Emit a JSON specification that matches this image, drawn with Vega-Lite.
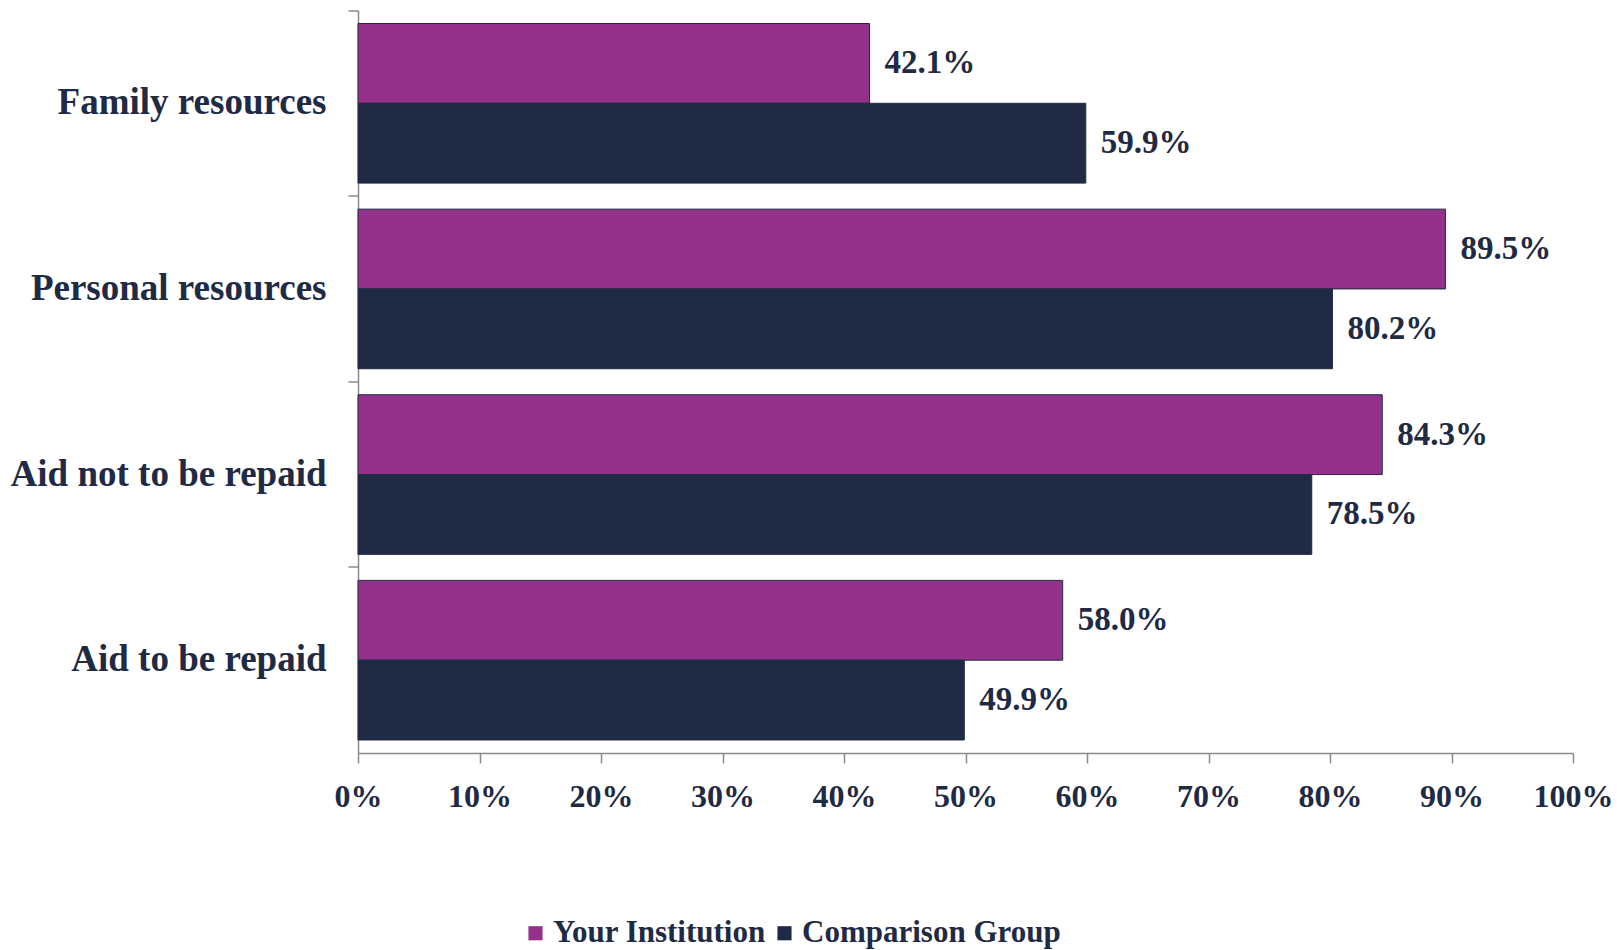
{
  "$schema": "https://vega.github.io/schema/vega-lite/v6.json",
  "width": 1215,
  "height": 742.5,
  "autosize": {"type": "none"},
  "padding": {"left": 358, "top": 10.5, "right": 44, "bottom": 197},
  "background": "white",
  "config": {"view": {"stroke": null}, "font": "Liberation Serif"},
  "data": {
    "values": [
      {"category": "Family resources", "group": "Your Institution", "value": 0.421},
      {"category": "Family resources", "group": "Comparison Group", "value": 0.599},
      {"category": "Personal resources", "group": "Your Institution", "value": 0.895},
      {"category": "Personal resources", "group": "Comparison Group", "value": 0.802},
      {"category": "Aid not to be repaid", "group": "Your Institution", "value": 0.843},
      {"category": "Aid not to be repaid", "group": "Comparison Group", "value": 0.785},
      {"category": "Aid to be repaid", "group": "Your Institution", "value": 0.58},
      {"category": "Aid to be repaid", "group": "Comparison Group", "value": 0.499}
    ]
  },
  "encoding": {
    "y": {
      "field": "category",
      "type": "nominal",
      "sort": ["Family resources", "Personal resources", "Aid not to be repaid", "Aid to be repaid"],
      "scale": {"paddingInner": 0, "paddingOuter": 0},
      "axis": {
        "title": null,
        "bandPosition": 0,
        "labelOffset": 0,
        "tickSize": 10,
        "labelPadding": 22,
        "labelLimit": 500,
        "labelFontSize": 37,
        "labelFontWeight": "bold",
        "labelColor": "#1F2A44",
        "labelFont": "Liberation Serif",
        "labelAlign": "right",
        "labelBaseline": "middle",
        "domainColor": "#8a8a8a",
        "tickColor": "#8a8a8a",
        "domainWidth": 1.5,
        "tickWidth": 1.5
      }
    },
    "yOffset": {
      "field": "group",
      "type": "nominal",
      "sort": ["Your Institution", "Comparison Group"],
      "scale": {"paddingInner": 0, "paddingOuter": 0.163}
    },
    "x": {
      "field": "value",
      "type": "quantitative",
      "scale": {"domain": [0, 1], "nice": false},
      "axis": {
        "title": null,
        "format": ".0%",
        "values": [0, 0.1, 0.2, 0.3, 0.4, 0.5, 0.6, 0.7, 0.8, 0.9, 1],
        "grid": false,
        "tickSize": 10,
        "labelPadding": 18,
        "labelFontSize": 32,
        "labelFontWeight": "bold",
        "labelColor": "#1F2A44",
        "labelFont": "Liberation Serif",
        "labelFlush": false,
        "labelOverlap": false,
        "domainColor": "#8a8a8a",
        "tickColor": "#8a8a8a",
        "domainWidth": 1.5,
        "tickWidth": 1.5
      }
    }
  },
  "layer": [
    {
      "mark": {"type": "bar", "stroke": "#1F2A44", "strokeWidth": 1},
      "encoding": {
        "color": {
          "field": "group",
          "type": "nominal",
          "scale": {"domain": ["Your Institution", "Comparison Group"], "range": ["#93318B", "#1F2B45"]},
          "legend": {
            "orient": "none",
            "legendX": 162,
            "legendY": 907,
            "direction": "horizontal",
            "title": null,
            "symbolType": "square",
            "symbolSize": 200,
            "symbolStrokeWidth": 0,
            "labelFontSize": 31,
            "labelFont": "Liberation Serif",
            "labelFontWeight": "bold",
            "labelColor": "#1F2A44",
            "labelOffset": 2,
            "padding": 0,
            "columnPadding": 3,
            "labelLimit": 400
          }
        }
      }
    },
    {
      "mark": {"type": "text", "align": "left", "baseline": "middle", "dx": 15, "font": "Liberation Serif", "fontSize": 33, "fontWeight": "bold", "color": "#1F2A44"},
      "encoding": {
        "text": {"field": "value", "type": "quantitative", "format": ".1%"}
      }
    }
  ]
}
